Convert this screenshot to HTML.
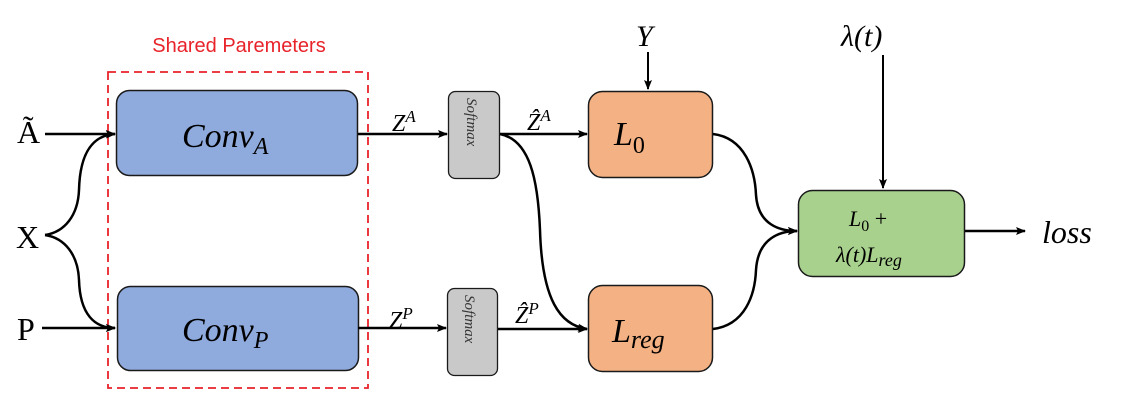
<!DOCTYPE html>
<html><head><meta charset="utf-8"><style>
html,body{margin:0;padding:0;background:#fff;width:1143px;height:402px;overflow:hidden}
svg text{font-family:"Liberation Serif",serif}
</style></head><body>
<svg width="1143" height="402" viewBox="0 0 1143 402" xmlns="http://www.w3.org/2000/svg">
<defs>
<marker id="ar" markerWidth="10" markerHeight="10" refX="9" refY="5" orient="auto" markerUnits="userSpaceOnUse">
<path d="M0,1 L10,5 L0,9 L2,5 Z" fill="#000"/></marker>
</defs>
<text x="239" y="52" text-anchor="middle" font-family="Liberation Sans" style="font-family:'Liberation Sans',sans-serif" font-size="20" fill="#e8232a">Shared Paremeters</text>
<rect x="108" y="72" width="260" height="316" fill="none" stroke="#e8232a" stroke-width="1.8" stroke-dasharray="8,5"/>
<rect x="116.5" y="90.5" width="241" height="85" rx="13" fill="#8faadc" stroke="#1a1a1a" stroke-width="1.5"/>
<rect x="117.5" y="286.5" width="241" height="84" rx="13" fill="#8faadc" stroke="#1a1a1a" stroke-width="1.5"/>
<rect x="448.5" y="91.5" width="51" height="87" rx="7" fill="#c9c9c9" stroke="#1a1a1a" stroke-width="1.3"/>
<rect x="447.5" y="288.5" width="50" height="87" rx="7" fill="#c9c9c9" stroke="#1a1a1a" stroke-width="1.3"/>
<rect x="588.5" y="91.5" width="124" height="86" rx="14" fill="#f4b183" stroke="#1a1a1a" stroke-width="1.5"/>
<rect x="588.5" y="285.5" width="124" height="86" rx="14" fill="#f4b183" stroke="#1a1a1a" stroke-width="1.5"/>
<rect x="798.5" y="190.5" width="166" height="86" rx="14" fill="#a9d18e" stroke="#1a1a1a" stroke-width="1.5"/>

<g font-style="italic" fill="#000">
<text x="182" y="147" font-size="34">Conv<tspan font-size="24" dy="7">A</tspan></text>
<text x="182" y="341" font-size="34">Conv<tspan font-size="24" dy="7">P</tspan></text>
<text x="614" y="145" font-size="34">L<tspan font-size="24" font-style="normal" dy="8">0</tspan></text>
<text x="612" y="342" font-size="34">L<tspan font-size="26" dy="6">reg</tspan></text>
<text x="849" y="226" font-size="22">L<tspan font-size="16" font-style="normal" dy="5">0</tspan><tspan dy="-5" font-style="normal"> +</tspan></text>
<text x="836" y="262" font-size="22">λ(t)L<tspan font-size="18" dy="4">reg</tspan></text>
<text x="1042" y="243" font-size="32">loss</text>
<text x="636" y="46" font-size="30">Y</text>
<text x="841" y="46" font-size="30">λ(t)</text>
<text x="392" y="131" font-size="24">Z<tspan font-size="17" dy="-9">A</tspan></text>
<text x="389" y="328" font-size="24">Z<tspan font-size="17" dy="-9">P</tspan></text>
<text x="527" y="130" font-size="24">Ẑ<tspan font-size="17" dy="-9">A</tspan></text>
<text x="515" y="323" font-size="24">Ẑ<tspan font-size="17" dy="-9">P</tspan></text>
<text transform="translate(467,98) rotate(90)" font-size="15" fill="#333">Softmax</text>
<text transform="translate(465,295) rotate(90)" font-size="15" fill="#333">Softmax</text>
</g>
<g font-size="32" fill="#000">
<text x="17" y="143">Ã</text>
<text x="16" y="248">X</text>
<text x="17" y="340">P</text>
</g>

<g stroke="#000" stroke-width="2.5" fill="none">
<path d="M45,134 L115,134" marker-end="url(#ar)"/>
<path d="M42,328 L115,328" marker-end="url(#ar)"/>
<path d="M45,235 C65,232 78,215 79,190 C80,150 95,135 115,134" marker-end="url(#ar)"/>
<path d="M45,235 C65,238 78,255 79,280 C80,315 95,328 115,328" marker-end="url(#ar)"/>
<path d="M358,134 L447,134" marker-end="url(#ar)"/>
<path d="M358,328 L446,328" marker-end="url(#ar)"/>
<path d="M500,134 L587,134" marker-end="url(#ar)"/>
<path d="M498,329 L587,329" marker-end="url(#ar)"/>
<path d="M500,134 C530,140 538,180 540,230 C542,300 560,325 587,329" marker-end="url(#ar)"/>
<path d="M713,134 C745,138 755,170 756,195 C758,225 780,231 797,231" marker-end="url(#ar)"/>
<path d="M713,329 C745,325 755,295 756,270 C758,238 780,231 797,231" marker-end="url(#ar)"/>
<path d="M965,231 L1025,231" marker-end="url(#ar)"/>
</g>
<g stroke="#000" stroke-width="2" fill="none">
<path d="M648,52 L648,89" marker-end="url(#ar)"/>
<path d="M883,55 L883,188" marker-end="url(#ar)"/>
</g>
</svg>
</body></html>
